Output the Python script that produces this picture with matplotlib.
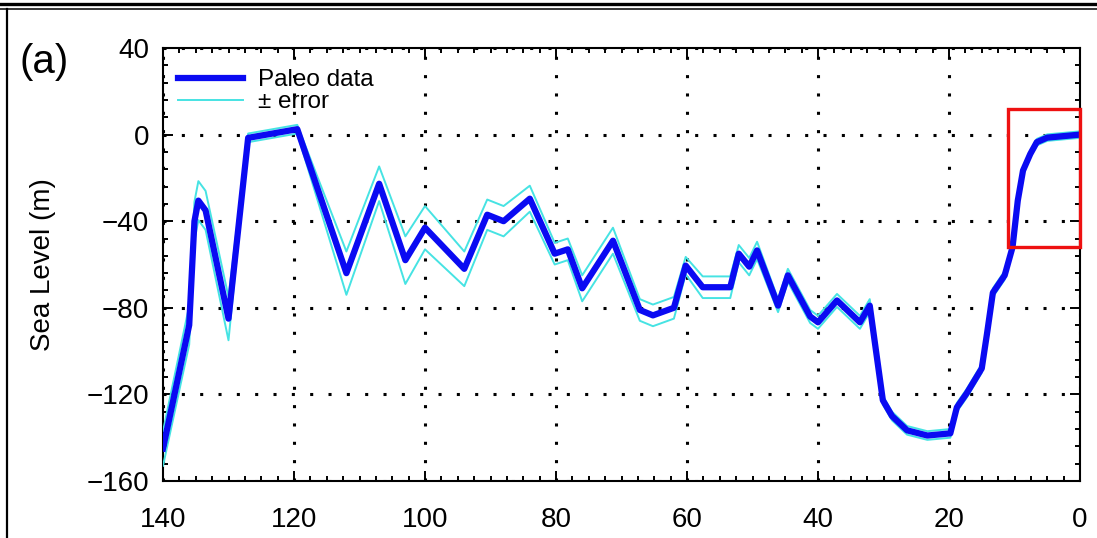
import numpy as np
import matplotlib
matplotlib.use("Agg")
import matplotlib.pyplot as plt
from matplotlib.lines import Line2D
from matplotlib.patches import Rectangle
from matplotlib.ticker import MultipleLocator

# ---------------- data ----------------
age_ka = [140, 136, 135.2, 134.6, 133.5, 130, 127, 119.5, 112, 107,
          103, 100, 94, 90.5, 88, 84, 80.2, 78.2, 76, 71.3,
          67.2, 65.2, 62, 60.2, 57.6, 53.4, 52.1, 50.5, 49.3, 46.1,
          44.6, 41.2, 40, 37.1, 33.6, 32.1, 30.1, 28.7, 26.4, 23.3,
          19.8, 18.8, 17.3, 15.0, 14.2, 13.3, 11.5, 10.3, 9.5, 8.7,
          7.6, 6.6, 5.0, 0]
sea_level = [-145, -88, -40, -30.5, -35, -85, -1.5, 2.5, -64, -22.7,
             -58, -43, -62, -37, -40, -29.6, -55, -53, -71, -49,
             -81, -83.5, -80, -60.5, -70.5, -70.5, -55, -61, -53.5, -79,
             -65, -84, -86.7, -76.6, -86.7, -79, -122.7, -130, -136.6, -139,
             -138, -126, -119.5, -108, -92, -73, -65, -52, -30.5, -16.6,
             -9, -3.5, -1.4, 0]
sl_error = [8, 9, 9, 9, 9, 10, 2, 2, 10, 8,
            11, 10, 8, 7, 7, 6, 5, 5, 6, 6,
            5, 5, 5, 4, 5, 5, 4, 4, 4, 3,
            3, 3, 3, 3, 3, 3, 2, 2, 2, 2,
            2, 2, 2, 2, 2, 2, 2, 2, 1.5, 1.5,
            1.5, 1.5, 1.5, 1.5]

# highlighted box (age range, sea level range)
box_age = (0, 11)
box_sl = (-52, 12)

x_ticks = [140, 120, 100, 80, 60, 40, 20, 0]
y_ticks = [40, 0, -40, -80, -120, -160]

BLUE = "#0a0af2"
CYAN = "#46e3e3"

plt.rcParams["font.family"] = ["Liberation Sans", "DejaVu Sans"]

fig = plt.figure(figsize=(10.97, 5.38), dpi=100)
ax = fig.add_axes([163 / 1097, 1 - 481 / 538, (1080 - 163) / 1097, (481 - 48) / 538])

a = np.array(age_ka)
s = np.array(sea_level)
e = np.array(sl_error)

ax.plot(a, s + e, color=CYAN, lw=1.4, zorder=3)
ax.plot(a, s - e, color=CYAN, lw=1.4, zorder=3, label="± error")
ax.plot(a, s, color=BLUE, lw=4.5, zorder=4, solid_joinstyle="round", label="Paleo data")

ax.add_patch(Rectangle((box_age[0], box_sl[0]), box_age[1] - box_age[0], box_sl[1] - box_sl[0],
                       fill=False, edgecolor="#ee1111", lw=2.4, zorder=5, clip_on=False))

ax.set_xlim(140, 0)
ax.set_ylim(-160, 40)
ax.set_xticks(x_ticks)
ax.set_yticks(y_ticks)
ax.set_yticklabels([str(v).replace("-", "\u2212") for v in y_ticks])
ax.xaxis.set_minor_locator(MultipleLocator(2.5))
ax.yaxis.set_minor_locator(MultipleLocator(8))
ax.tick_params(which="both", direction="in", top=True, right=True, colors="black")
ax.tick_params(which="major", length=7, width=1.4, labelsize=20)
ax.tick_params(which="minor", length=3.5, width=1.4)
ax.tick_params(axis="x", which="major", pad=19)
ax.tick_params(axis="y", which="major", pad=10)
for sp in ax.spines.values():
    sp.set_linewidth(1.5)

ax.grid(True, which="major", color="black", linestyle=(0, (1, 5)), linewidth=2.2)
ax.set_axisbelow(True)

ax.set_ylabel("Sea Level (m)", fontsize=20, labelpad=22)

h, l = ax.get_legend_handles_labels()
leg = ax.legend(h[::-1], l[::-1], loc="upper left", bbox_to_anchor=(0, 0.985), frameon=False,
                fontsize=17.5, handlelength=2.7, handletextpad=0.6, labelspacing=0.0,
                borderaxespad=0.2, borderpad=0.4)

fig.text(20 / 1097, 1 - 62 / 538, "(a)", fontsize=29, va="center", ha="left")

# page frame around the panel
fig.add_artist(Line2D([0, 1], [1 - 4 / 538, 1 - 4 / 538], transform=fig.transFigure, color="black", lw=2.4))
fig.add_artist(Line2D([0, 1], [1 - 8.5 / 538, 1 - 8.5 / 538], transform=fig.transFigure, color="black", lw=1.1))
fig.add_artist(Line2D([7 / 1097, 7 / 1097], [0, 1 - 8.5 / 538], transform=fig.transFigure, color="black", lw=1.6))

fig.savefig("out.png", dpi=100)
